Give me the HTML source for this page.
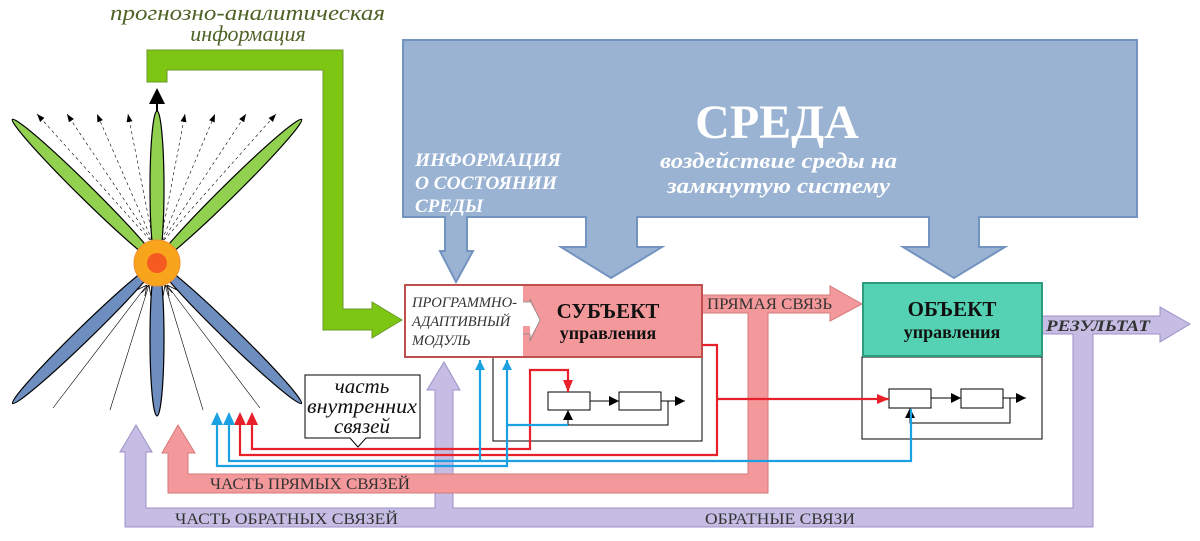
<!DOCTYPE html>
<html><head><meta charset="utf-8"><style>
html,body{margin:0;padding:0;background:#fff;}
svg{display:block;}
text{font-family:"Liberation Serif",serif;}
</style></head><body>
<svg width="1200" height="541" viewBox="0 0 1200 541" xmlns="http://www.w3.org/2000/svg">
<defs>
<marker id="ab" markerWidth="8" markerHeight="6" refX="8" refY="3" orient="auto" markerUnits="userSpaceOnUse"><path d="M0,0 L8,3 L0,6z" fill="#000"/></marker>
<marker id="ar" markerWidth="12" markerHeight="10" refX="12" refY="5" orient="auto" markerUnits="userSpaceOnUse"><path d="M0,0 L12,5 L0,10z" fill="#e8202a"/></marker>
<marker id="au" markerWidth="10" markerHeight="10" refX="10" refY="5" orient="auto" markerUnits="userSpaceOnUse"><path d="M0,0 L10,5 L0,10z" fill="#1ba1e2"/></marker>
<marker id="ad" markerWidth="10" markerHeight="12" refX="10" refY="6" orient="auto" markerUnits="userSpaceOnUse"><path d="M0,1 L10,6 L0,11z" fill="#000"/></marker>
<marker id="ao" markerWidth="10" markerHeight="10" refX="10" refY="5" orient="auto" markerUnits="userSpaceOnUse"><path d="M0,0 L10,5 L0,10" fill="none" stroke="#000" stroke-width="0.8"/></marker>
</defs>

<!-- green prognostic arrow -->
<path d="M147,50 L343,50 L343,309 L372,309 L372,302 L402,320 L372,338 L372,330 L323,330 L323,70 L167,70 L167,82 L147,82 Z" fill="#7ec614" stroke="#6a9a2a" stroke-width="1"/>
<text x="110" y="20" font-size="22" font-style="italic" fill="#4f6228" textLength="275" lengthAdjust="spacingAndGlyphs">прогнозно-аналитическая</text>
<text x="248" y="41" font-size="22" font-style="italic" fill="#4f6228" text-anchor="middle">информация</text>

<!-- environment -->
<path d="M403,40 L1137,40 L1137,217 L979,217 L979,247 L1005,247 L954,278 L903,247 L929,247 L929,217 L637,217 L637,247 L662,247 L611,278 L561,247 L586,247 L586,217 L467,217 L467,251 L473,251 L456,282 L440,251 L445,251 L445,217 L403,217 Z" fill="#9ab3d3" stroke="#7393c0" stroke-width="2"/>
<text x="777" y="138" font-size="48" font-weight="bold" fill="#fff" text-anchor="middle">СРЕДА</text>
<text x="660" y="168" font-size="22" font-weight="bold" font-style="italic" fill="#fff" textLength="237" lengthAdjust="spacingAndGlyphs">воздействие среды на</text>
<text x="667" y="193" font-size="22" font-weight="bold" font-style="italic" fill="#fff" textLength="223" lengthAdjust="spacingAndGlyphs">замкнутую систему</text>
<text x="415" y="166" font-size="19" font-weight="bold" font-style="italic" fill="#fff" textLength="146" lengthAdjust="spacingAndGlyphs">ИНФОРМАЦИЯ</text>
<text x="415" y="189" font-size="19" font-weight="bold" font-style="italic" fill="#fff" textLength="142" lengthAdjust="spacingAndGlyphs">О СОСТОЯНИИ</text>
<text x="415" y="212" font-size="19" font-weight="bold" font-style="italic" fill="#fff">СРЕДЫ</text>

<!-- purple feedback band -->
<path d="M1042,316 L1160,316 L1160,307 L1190,324 L1160,342 L1160,334 L1093,334 L1093,527 L125,527 L125,452 L120,452 L136,425 L152,452 L146,452 L146,508 L435,508 L435,390 L427,390 L444,362 L460,390 L453,390 L453,508 L1073,508 L1073,334 L1042,334 Z" fill="#c5bde3" stroke="#9d90c8" stroke-width="1"/>
<text x="175" y="524" font-size="16" fill="#333" textLength="223" lengthAdjust="spacingAndGlyphs">ЧАСТЬ ОБРАТНЫХ СВЯЗЕЙ</text>
<text x="705" y="524" font-size="16" fill="#333" textLength="150" lengthAdjust="spacingAndGlyphs">ОБРАТНЫЕ СВЯЗИ</text>
<text x="1046" y="331" font-size="16" font-weight="bold" font-style="italic" fill="#333" textLength="104" lengthAdjust="spacingAndGlyphs">РЕЗУЛЬТАТ</text>

<!-- pink forward band -->
<path d="M702,295 L830,295 L830,286 L862,304 L830,321 L830,313 L768,313 L768,493 L168,493 L168,453 L162,453 L178,425 L195,453 L188,453 L188,474 L748,474 L748,313 L702,313 Z" fill="#f4999b" stroke="#d57a7a" stroke-width="1"/>
<text x="210" y="489" font-size="16" fill="#333" textLength="200" lengthAdjust="spacingAndGlyphs">ЧАСТЬ ПРЯМЫХ СВЯЗЕЙ</text>
<text x="707" y="309" font-size="16" fill="#333" textLength="125" lengthAdjust="spacingAndGlyphs">ПРЯМАЯ СВЯЗЬ</text>

<!-- subject block -->
<rect x="493" y="357" width="209" height="84" fill="none" stroke="#000" stroke-width="1"/>
<rect x="405" y="285" width="297" height="72" fill="#f4999b" stroke="#c0504d" stroke-width="2"/>
<path d="M406,286 L523,286 L523,302 L530,302 L540,320 L530,338 L530,326 L523,326 L523,356 L406,356 Z" fill="#fff"/>
<path d="M523,302 L530,302 L530,299 L540,320 L530,341 L530,334 L523,334" fill="none" stroke="#888" stroke-width="0.8"/>
<text x="412" y="307" font-size="14.5" font-style="italic" fill="#333" textLength="105" lengthAdjust="spacingAndGlyphs">ПРОГРАММНО-</text>
<text x="412" y="326" font-size="14.5" font-style="italic" fill="#333">АДАПТИВНЫЙ</text>
<text x="412" y="345" font-size="14.5" font-style="italic" fill="#333">МОДУЛЬ</text>
<text x="608" y="318" font-size="21" font-weight="bold" fill="#111" text-anchor="middle">СУБЪЕКТ</text>
<text x="608" y="339" font-size="18" font-weight="bold" fill="#111" text-anchor="middle">управления</text>
<rect x="548" y="392" width="42" height="18" fill="#fff" stroke="#000"/>
<rect x="619" y="392" width="42" height="18" fill="#fff" stroke="#000"/>
<line x1="590" y1="401" x2="619" y2="401" stroke="#000" marker-end="url(#ad)"/>
<line x1="661" y1="401" x2="685" y2="401" stroke="#000" marker-end="url(#ad)"/>
<polyline points="668,401 668,425 568,425 568,410" fill="none" stroke="#000" marker-end="url(#ad)"/>

<!-- object block -->
<rect x="862" y="357" width="180" height="82" fill="#fff" stroke="#000" stroke-width="1"/>
<rect x="863" y="283" width="179" height="73" fill="#55d2b3" stroke="#2e9a7e" stroke-width="2"/>
<text x="952" y="316" font-size="21" font-weight="bold" fill="#111" text-anchor="middle">ОБЪЕКТ</text>
<text x="952" y="338" font-size="18" font-weight="bold" fill="#111" text-anchor="middle">управления</text>
<rect x="889" y="389" width="42" height="19" fill="#fff" stroke="#000"/>
<rect x="961" y="389" width="42" height="19" fill="#fff" stroke="#000"/>
<line x1="931" y1="398" x2="961" y2="398" stroke="#000" marker-end="url(#ad)"/>
<line x1="1003" y1="398" x2="1026" y2="398" stroke="#000" marker-end="url(#ad)"/>
<polyline points="1010,398 1010,423 910,423 910,408" fill="none" stroke="#000" marker-end="url(#ad)"/>

<!-- red lines -->
<polyline points="252,425 252,449 530,449 530,370 568,370 568,392" fill="none" stroke="#e8202a" stroke-width="2.2" marker-end="url(#ar)"/>
<polyline points="240,425 240,455 717,455 717,345 702,345" fill="none" stroke="#e8202a" stroke-width="2.2"/>
<line x1="717" y1="399" x2="889" y2="399" stroke="#e8202a" stroke-width="2.2" marker-end="url(#ar)"/>
<path d="M246,425 L252,412 L258,425z M234,425 L240,412 L246,425z" fill="#e8202a"/>
<!-- blue lines -->
<polyline points="229,425 229,461 911,461 911,409" fill="none" stroke="#1ba1e2" stroke-width="2.2"/>
<line x1="480" y1="461" x2="480" y2="360" stroke="#1ba1e2" stroke-width="2.2" marker-end="url(#au)"/>
<polyline points="217,425 217,466 507,466 507,360" fill="none" stroke="#1ba1e2" stroke-width="2.2" marker-end="url(#au)"/>
<line x1="507" y1="425" x2="568" y2="425" stroke="#1ba1e2" stroke-width="2.2"/>
<path d="M211,425 L217,412 L223,425z M223,425 L229,412 L235,425z" fill="#1ba1e2"/>

<!-- callout -->
<path d="M305,375 L420,375 L420,438 L366,438 L358,447 L350,438 L305,438 Z" fill="#fff" stroke="#000" stroke-width="1"/>
<text x="362" y="393" font-size="21" font-style="italic" fill="#111" text-anchor="middle">часть</text>
<text x="362" y="413" font-size="21" font-style="italic" fill="#111" text-anchor="middle" textLength="110" lengthAdjust="spacingAndGlyphs">внутренних</text>
<text x="362" y="433" font-size="21" font-style="italic" fill="#111" text-anchor="middle">связей</text>

<!-- star figure -->
<g stroke="#000" stroke-width="0.6" stroke-dasharray="3,3" fill="none">
<line x1="150" y1="240" x2="37" y2="114" marker-end="url(#ab)"/>
<line x1="151" y1="240" x2="67" y2="114" marker-end="url(#ab)"/>
<line x1="152" y1="240" x2="97" y2="114" marker-end="url(#ab)"/>
<line x1="153" y1="240" x2="128" y2="114" marker-end="url(#ab)"/>
<line x1="161" y1="240" x2="185" y2="114" marker-end="url(#ab)"/>
<line x1="162" y1="240" x2="215" y2="114" marker-end="url(#ab)"/>
<line x1="163" y1="240" x2="246" y2="114" marker-end="url(#ab)"/>
<line x1="164" y1="240" x2="276" y2="114" marker-end="url(#ab)"/>
</g>
<g stroke="#000" stroke-width="0.6" fill="none">
<line x1="53" y1="408" x2="147" y2="285" marker-end="url(#ao)"/>
<line x1="110" y1="410" x2="149" y2="285" marker-end="url(#ao)"/>
<line x1="203" y1="410" x2="165" y2="285" marker-end="url(#ao)"/>
<line x1="260" y1="408" x2="167" y2="285" marker-end="url(#ao)"/>
</g>
<g stroke="#000" stroke-width="1.2">
<ellipse cx="85" cy="191" rx="102" ry="7" fill="#92d050" transform="rotate(44.6 85 191)"/>
<ellipse cx="229" cy="191" rx="102" ry="7" fill="#92d050" transform="rotate(-44.6 229 191)"/>
<ellipse cx="157" cy="188" rx="7" ry="77" fill="#92d050"/>
<ellipse cx="85" cy="333" rx="101" ry="7" fill="#6d8ebf" transform="rotate(-44.2 85 333)"/>
<ellipse cx="229" cy="333" rx="101" ry="7" fill="#6d8ebf" transform="rotate(44.2 229 333)"/>
<ellipse cx="157" cy="339" rx="7" ry="77" fill="#6d8ebf"/>
</g>
<line x1="157" y1="112" x2="157" y2="100" stroke="#000" stroke-width="2"/>
<path d="M149,104 L157,88 L165,104z" fill="#000"/>
<circle cx="157" cy="263" r="23" fill="#f8a51c" stroke="#f39030"/>
<circle cx="157" cy="263" r="10" fill="#f55a20"/>
</svg>
</body></html>
